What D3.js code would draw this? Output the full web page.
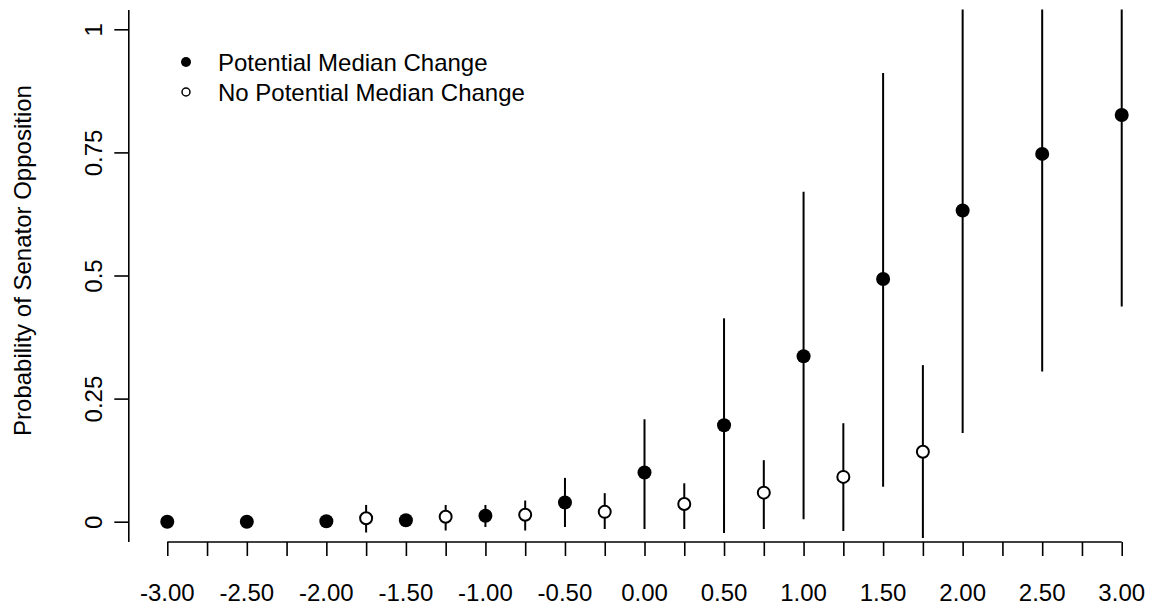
<!DOCTYPE html>
<html>
<head>
<meta charset="utf-8">
<script src="https://cdn.jsdelivr.net/npm/d3@7"></script>
<style>
  body { margin: 0; background: #fff; }
  svg text { font-family: "Liberation Sans", Arial, sans-serif; fill: #000; }
</style>
</head>
<body>
<svg id="chart" width="1151" height="608"></svg>
<script>
// data
// points where a median change is possible (filled)
let medX  = [-3, -2.5, -2, -1.5, -1, -0.5, 0, 0.5, 1, 1.5, 2, 2.5, 3];
let medY  = [0.0, 0.0, 0.001, 0.003, 0.012, 0.039, 0.100, 0.196, 0.336, 0.493, 0.632, 0.747, 0.826];
let medLo = [0.0, 0.0, 0.0, 0.0, -0.011, -0.011, -0.015, -0.023, 0.005, 0.071, 0.18, 0.305, 0.437];
let medHi = [0.002, 0.002, 0.003, 0.008, 0.034, 0.089, 0.208, 0.413, 0.670, 0.911, 1.10, 1.12, 1.15];

// points with no potential median change (open)
let noX  = [-1.75, -1.25, -0.75, -0.25, 0.25, 0.75, 1.25, 1.75];
let noY  = [0.007, 0.010, 0.014, 0.020, 0.036, 0.059, 0.091, 0.142];
let noLo = [-0.022, -0.018, -0.018, -0.015, -0.015, -0.015, -0.019, -0.033];
let noHi = [0.034, 0.034, 0.043, 0.058, 0.078, 0.125, 0.200, 0.318];

let xTicks = d3.range(-3, 3.001, 0.25);
let xLabels = d3.range(-3, 3.001, 0.5);
let yTicks = [0, 0.25, 0.5, 0.75, 1];
let yTickLabels = ["0", "0.25", "0.5", "0.75", "1"];
let legendLabels = ["Potential Median Change", "No Potential Median Change"];
let yTitle = "Probability of Senator Opposition";

let svg = d3.select("#chart");

let x = d3.scaleLinear().domain([-3.24, 3.24]).range([129.1, 1159.9]);
let y = d3.scaleLinear().domain([-0.04, 1.04]).range([541.4, 9.6]);

let axisY = 542;

// clip error bars to the plot region
svg.append("clipPath").attr("id", "plotclip")
  .append("rect")
  .attr("x", x(-3.24)).attr("y", y(1.04))
  .attr("width", x(3.24) - x(-3.24))
  .attr("height", y(-0.04) - y(1.04));

let med = medX.map((d, i) => ({x: d, y: medY[i], lo: medLo[i], hi: medHi[i]}));
let no = noX.map((d, i) => ({x: d, y: noY[i], lo: noLo[i], hi: noHi[i]}));

let plot = svg.append("g").attr("clip-path", "url(#plotclip)");

// error bars
plot.selectAll(".bar")
  .data(med.concat(no))
  .enter()
  .append("line")
  .attr("class", "bar")
  .attr("x1", d => x(d.x)).attr("x2", d => x(d.x))
  .attr("y1", d => y(d.lo)).attr("y2", d => y(d.hi))
  .style("stroke", "#000")
  .style("stroke-width", 2);

// filled points
plot.selectAll(".med")
  .data(med)
  .enter()
  .append("circle")
  .attr("class", "med")
  .attr("cx", d => x(d.x)).attr("cy", d => y(d.y))
  .attr("r", 7)
  .style("fill", "#000");

// open points
plot.selectAll(".nomed")
  .data(no)
  .enter()
  .append("circle")
  .attr("class", "nomed")
  .attr("cx", d => x(d.x)).attr("cy", d => y(d.y))
  .attr("r", 6)
  .style("fill", "#fff")
  .style("stroke", "#000")
  .style("stroke-width", 2);

// x axis
let gx = svg.append("g")
  .attr("transform", "translate(0," + axisY + ")")
  .call(d3.axisBottom(x).tickValues(xTicks).tickSize(14).tickSizeOuter(0).tickFormat(""));
gx.select(".domain").remove();
gx.selectAll(".tick line").style("stroke-width", 1.6);
gx.append("line")
  .attr("x1", x(-3)).attr("x2", x(3))
  .attr("y1", 0).attr("y2", 0)
  .style("stroke", "#000").style("stroke-width", 1.6);

gx.selectAll(".xlab")
  .data(xLabels)
  .enter()
  .append("text")
  .attr("class", "xlab")
  .attr("x", d => x(d))
  .attr("y", 59)
  .attr("text-anchor", "middle")
  .style("font-size", "24px")
  .text(d => d.toFixed(2));

// y axis
let gy = svg.append("g")
  .attr("transform", "translate(128.3,0)")
  .call(d3.axisLeft(y).tickValues(yTicks).tickSize(14).tickSizeOuter(0)
    .tickFormat((d, i) => yTickLabels[i]));
gy.select(".domain").style("stroke-width", 1.6);
gy.selectAll(".tick line").style("stroke-width", 1.6);
gy.selectAll(".tick text")
  .attr("x", 0).attr("y", -26).attr("dy", 0)
  .attr("text-anchor", "middle")
  .attr("transform", "rotate(-90)")
  .style("font-size", "24px")
  .style("font-family", '"Liberation Sans", Arial, sans-serif')
  .style("fill", "#000");

// y title
svg.append("text")
  .attr("transform", "translate(31,260.5) rotate(-90)")
  .attr("text-anchor", "middle")
  .style("font-size", "24px")
  .text(yTitle);

// legend
let legend = svg.append("g");
legend.append("circle")
  .attr("cx", 186).attr("cy", 62).attr("r", 5)
  .style("fill", "#000");
legend.append("circle")
  .attr("cx", 186).attr("cy", 92).attr("r", 4)
  .style("fill", "#fff").style("stroke", "#000").style("stroke-width", 1.5);
legend.selectAll(".legtext")
  .data(legendLabels)
  .enter()
  .append("text")
  .attr("class", "legtext")
  .attr("x", 218)
  .attr("y", (d, i) => 70.6 + i * 30)
  .style("font-size", "24px")
  .text(d => d);
</script>
</body>
</html>
